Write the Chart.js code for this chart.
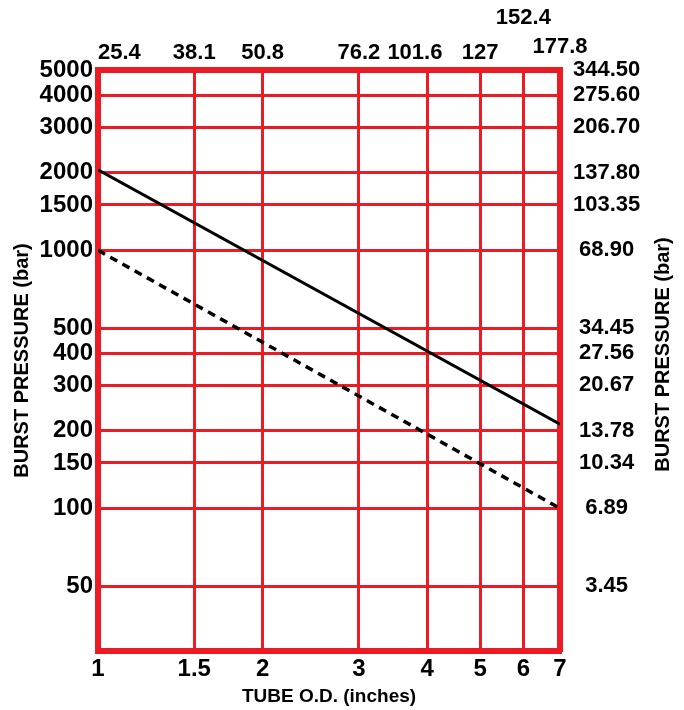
<!DOCTYPE html>
<html>
<head>
<meta charset="utf-8">
<script src="https://cdn.jsdelivr.net/npm/chart.js@4.4.1/dist/chart.umd.min.js"></script>
<style>
  html, body { margin: 0; padding: 0; background: #fff; }
  #wrap { width: 684px; height: 710px; position: relative; }
</style>
</head>
<body>
<div id="wrap"><canvas id="burstChart"></canvas></div>
<script>
const RED = "#ed1c24";
const FONT = "'Liberation Sans', Arial, sans-serif";

// tube O.D. in inches (bottom) and the mm labels on top
const tubeOD = [1, 1.5, 2, 3, 4, 5, 6, 7];
const tubeMM = ["25.4", "38.1", "50.8", "76.2", "101.6", "127", "152.4", "177.8"];

// pressure ticks, left side and right side labels
const pressureTicks = [50, 100, 150, 200, 300, 400, 500, 1000, 1500, 2000, 3000, 4000, 5000];
const rightLabels = ["3.45", "6.89", "10.34", "13.78", "20.67", "27.56", "34.45",
  "68.90", "103.35", "137.80", "206.70", "275.60", "344.50"];

// the two curves, read at the ends
const lineX = [1, 7];
const solidBurst = [2050, 212];
const dashedBurst = [1000, 100];

function toPoints(xs, ys) {
  return xs.map((x, i) => ({ x: x, y: ys[i] }));
}

function setTicks(values) {
  return function (scale) {
    scale.ticks = values.map((v) => ({ value: v }));
  };
}

// right title reads bottom-to-top like the left one
const rightTitle = {
  id: "rightTitle",
  afterDraw(chart) {
    const { ctx, chartArea } = chart;
    ctx.save();
    ctx.translate(663, (chartArea.top + chartArea.bottom) / 2 - 6);
    ctx.rotate(-Math.PI / 2);
    ctx.font = "bold 20px " + FONT;
    ctx.fillStyle = "#000";
    ctx.textAlign = "center";
    ctx.textBaseline = "middle";
    ctx.fillText("BURST PRESSURE (bar)", 0, 0);
    ctx.restore();
  },
};

new Chart(document.getElementById("burstChart"), {
  type: "scatter",
  data: {
    datasets: [
      {
        data: toPoints(lineX, solidBurst),
        showLine: true,
        borderColor: "#000",
        borderWidth: 3,
        pointRadius: 0,
      },
      {
        data: toPoints(lineX, dashedBurst),
        showLine: true,
        borderColor: "#000",
        borderWidth: 3.5,
        borderDash: [8, 6],
        pointRadius: 0,
      },
    ],
  },
  plugins: [rightTitle],
  options: {
    responsive: true,
    maintainAspectRatio: false,
    animation: false,
    layout: { padding: 0 },
    plugins: {
      legend: { display: false },
      tooltip: { enabled: false },
    },
    scales: {
      x: {
        type: "logarithmic",
        position: "bottom",
        min: 1,
        max: 7,
        afterBuildTicks: setTicks(tubeOD),
        afterFit: (scale) => { scale.height = 59; },
        grid: { color: RED, lineWidth: 3, drawTicks: false },
        border: { color: RED, width: 6 },
        ticks: {
          autoSkip: false,
          maxRotation: 0,
          padding: 4,
          color: "#000",
          font: { family: FONT, size: 24, weight: "bold" },
          callback: (v) => String(v),
        },
        title: {
          display: true,
          text: "TUBE O.D. (inches)",
          color: "#000",
          font: { family: FONT, size: 19, weight: "bold" },
          padding: { top: 0, bottom: 2 },
        },
      },
      x2: {
        type: "logarithmic",
        position: "top",
        min: 1,
        max: 7,
        afterBuildTicks: setTicks(tubeOD),
        afterFit: (scale) => { scale.height = 70; },
        grid: { display: false, drawTicks: false },
        border: { color: RED, width: 6 },
        ticks: {
          autoSkip: false,
          maxRotation: 0,
          padding: 8,
          color: "#000",
          font: (c) => ({
            family: FONT,
            size: 22,
            weight: "bold",
            lineHeight: c.index === 7 ? "31px" : "17.5px",
          }),
          callback: (v, i) => {
            const s = tubeMM[i];
            if (i === 0) return "       " + s;
            if (i === 4) return s + "    ";
            if (i === 6) return [s, "", ""];
            return s;
          },
        },
      },
      y: {
        type: "logarithmic",
        position: "left",
        min: 28,
        max: 5000,
        afterBuildTicks: setTicks(pressureTicks),
        afterFit: (scale) => { scale.width = 98; },
        grid: { color: RED, lineWidth: 3, drawTicks: false },
        border: { color: RED, width: 6 },
        ticks: {
          autoSkip: false,
          padding: 5,
          color: "#000",
          font: { family: FONT, size: 24, weight: "bold" },
          callback: (v) => String(v),
        },
        title: {
          display: true,
          text: "BURST PRESSURE (bar)",
          color: "#000",
          font: { family: FONT, size: 20, weight: "bold" },
          padding: { top: 10, bottom: 0 },
        },
      },
      y2: {
        type: "logarithmic",
        position: "right",
        min: 28,
        max: 5000,
        afterBuildTicks: setTicks(pressureTicks),
        afterFit: (scale) => { scale.width = 124; },
        grid: { display: false, drawTicks: false },
        border: { color: RED, width: 6 },
        ticks: {
          autoSkip: false,
          padding: 13,
          crossAlign: "center",
          color: "#000",
          font: { family: FONT, size: 22, weight: "bold" },
          callback: (v, i) => rightLabels[i],
        },
      },
    },
  },
});
</script>
</body>
</html>
